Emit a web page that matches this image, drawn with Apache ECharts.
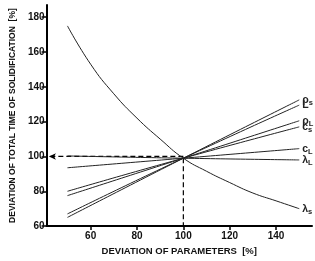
<!DOCTYPE html>
<html>
<head>
<meta charset="utf-8">
<script src="https://cdn.jsdelivr.net/npm/echarts@6/dist/echarts.min.js"></script>
<style>
  html, body { margin: 0; padding: 0; background: #fff; }
  #chart { width: 315px; height: 261px; }
</style>
</head>
<body>
<div id="chart"></div>
<script>
// tick labels
var xTicks = [60, 80, 100, 120, 140];
var yTicks = [60, 80, 100, 120, 140, 160, 180];

// straight parameter lines, read at 50 / 100 / 150 %
var lineX = [50, 100, 150];
var rhoS = [65, 99, 132.5];
var bigL = [67, 99, 129.5];
var rhoL = [77.5, 99, 120.5];
var cS = [80, 99, 117];
var cL = [93.5, 99, 104.5];
var lambdaL = [100.3, 99, 98];

// lambda_s curve
var lamSX = [50, 60, 70, 80, 90, 100, 110, 120, 130, 140, 150];
var lamS = [175, 153, 136, 122, 110, 99, 91.5, 85, 79, 74.5, 70];

// dashed guide lines
var guideH = [[100, 100], [42, 100]];
var guideV = [[100, 99], [100, 60]];

function pairs(xs, ys) {
  return xs.map(function (x, i) {
    return [x, ys[i]];
  });
}

var chartDom = document.getElementById("chart");
var myChart = echarts.init(chartDom);
var option;

var labelRich = {
  m: { fontSize: 10.5, fontFamily: "Liberation Sans", fontWeight: "bold", color: "#222" },
  s: { fontSize: 7.5, fontFamily: "Liberation Sans", fontWeight: "bold", color: "#222", padding: [6, 0, 0, 0] },
};

function paramLine(name, xs, ys, text) {
  return {
    name: name,
    type: "line",
    data: pairs(xs, ys),
    smooth: true,
    symbol: "none",
    lineStyle: { color: "#222", width: 1 },
    endLabel: {
      show: true,
      distance: 3,
      formatter: function () {
        return text;
      },
      rich: labelRich,
    },
    z: 3,
  };
}

option = {
  animation: false,
  grid: {
    left: 41,
    right: 3,
    top: 5,
    bottom: 28,
  },
  xAxis: {
    type: "value",
    min: 41,
    max: 155.5,
    name: "DEVIATION OF PARAMETERS  [%]",
    nameLocation: "middle",
    nameGap: 17,
    nameTextStyle: {
      fontFamily: "Liberation Sans",
      fontWeight: "bold",
      fontSize: 9.5,
      color: "#111",
      verticalAlign: "top",
    },
    axisLine: { lineStyle: { color: "#000", width: 2 } },
    axisTick: { customValues: xTicks, length: 4, lineStyle: { color: "#000", width: 1.5 } },
    axisLabel: {
      customValues: xTicks,
      margin: 5,
      fontFamily: "Liberation Sans",
      fontWeight: "bold",
      fontSize: 10,
      color: "#111",
    },
    splitLine: { show: false },
  },
  yAxis: {
    type: "value",
    min: 60,
    max: 187,
    name: "DEVIATION OF TOTAL TIME OF SOLIDIFICATION  [%]",
    nameLocation: "middle",
    nameGap: 28,
    nameTextStyle: {
      fontFamily: "Liberation Sans",
      fontWeight: "bold",
      fontSize: 8.5,
      color: "#111",
    },
    axisLine: { show: true, lineStyle: { color: "#000", width: 2 } },
    axisTick: { show: true, customValues: yTicks, length: 5, lineStyle: { color: "#000", width: 1.5 } },
    axisLabel: {
      customValues: yTicks,
      margin: 2,
      fontFamily: "Liberation Sans",
      fontWeight: "bold",
      fontSize: 10,
      color: "#111",
    },
    splitLine: { show: false },
  },
  series: [
    paramLine("lambdaS", lamSX, lamS, "{m|λ}{s|s}"),
    paramLine("rhoS", lineX, rhoS, "{m|ρ}{s|s}"),
    paramLine("L", lineX, bigL, "{m|L}"),
    paramLine("rhoL", lineX, rhoL, "{m|ρ}{s|L}"),
    paramLine("cS", lineX, cS, "{m|c}{s|s}"),
    paramLine("cL", lineX, cL, "{m|c}{s|L}"),
    paramLine("lambdaL", lineX, lambdaL, "{m|λ}{s|L}"),
    {
      name: "guideH",
      type: "line",
      data: [
        { value: guideH[0], symbol: "none" },
        { value: guideH[1], symbol: "arrow", symbolSize: [5, 7], symbolRotate: 90 },
      ],
      showSymbol: true,
      lineStyle: { color: "#000", width: 1.2, type: [5, 3] },
      itemStyle: { color: "#000" },
      z: 2,
    },
    {
      name: "guideV",
      type: "line",
      data: guideV,
      symbol: "none",
      lineStyle: { color: "#000", width: 1.2, type: [5, 3] },
      z: 2,
    },
  ],
};

option && myChart.setOption(option);
</script>
</body>
</html>
